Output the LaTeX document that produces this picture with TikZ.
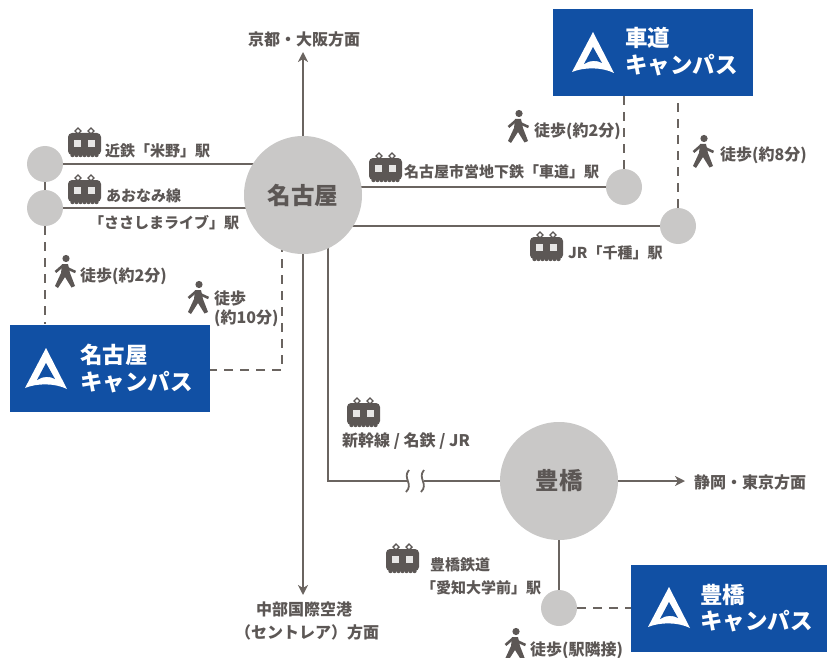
\documentclass[tikz,border=0pt]{standalone}
\usepackage{fontspec}
\setmainfont{Noto Sans CJK JP}
\usetikzlibrary{backgrounds, arrows.meta}
\definecolor{linegray}{HTML}{6A6460}
\definecolor{textgray}{HTML}{5C5755}
\definecolor{circgray}{HTML}{C9C8C7}
\definecolor{campusblue}{HTML}{1150A4}
\tikzset{
	hub/.style={circle, fill=circgray, minimum size=118pt, inner sep=0pt, text=textgray, font=\fontsize{23.5}{23.5}\selectfont\bfseries},
	station/.style={circle, fill=circgray, minimum size=36pt, inner sep=0pt},
	campus/.style={fill=campusblue, minimum width=200pt, minimum height=87pt, inner sep=0pt},
	campustext/.style={text=white, inner sep=0pt, anchor=west, font=\fontsize{22.5}{22.5}\selectfont\bfseries},
	lbl/.style={text=textgray, inner sep=0pt, font=\fontsize{15}{15}\selectfont\bfseries},
	lblwide/.style={lbl, font=\fontsize{16}{16}\selectfont\bfseries},
	rail/.style={draw=linegray, line width=2.8pt},
	walkway/.style={draw=linegray, line width=2.4pt, dash pattern=on 9pt off 7pt},
	pics/trainicon/.style={code={
		\fill[textgray, rounded corners=4pt] (0,5) rectangle (33,27);
		\foreach \wx in {3,7,11,15,19,23,27} \fill[textgray] (\wx+1.5,27) circle (2.2pt);
		\fill[white!85!textgray] (6,12) rectangle (13,19);
		\fill[white!85!textgray] (20,12) rectangle (27,19);
		\foreach \px in {10,23} \draw[textgray, line width=1.4pt] (\px,6) -- (\px-3,3) -- (\px,0) -- (\px+3,3) -- cycle;
	}},
	pics/walkericon/.style={code={
		\fill[textgray] (11,3.5) circle (3.6pt);
		\fill[textgray] (7,9) -- (13,9) -- (15,18) -- (20,31) -- (16.5,32.5) -- (10,22) -- (3,33) -- (0,31) -- (6,18) -- cycle;
		\draw[textgray, line width=2.6pt, line join=round] (0.5,17) -- (8,10.5) -- (14,14) -- (20.5,17);
	}},
	pics/campuslogo/.style={code={
		\fill[white] (21,0) -- (0,40) .. controls (12,35) and (30,35) .. (42,41) -- cycle;
		\fill[campusblue] (21,15) -- (12,32) .. controls (18,28) and (25,28) .. (30,31) -- cycle;
	}}
}
\begin{document}
\begin{tikzpicture}[x=1pt, y=-1pt, >={Stealth[length=10pt, width=10pt, inset=3pt]}]
	\useasboundingbox (0,0) rectangle (827,658);
	% hubs and stations
	\node[hub] (nagoya) at (303,195) {名古屋};
	\node[hub] (toyohashi) at (559,481) {豊橋};
	\node[station] (komeno) at (45,164) {};
	\node[station] (sasashima) at (45,208) {};
	\node[station] (kurumamichi) at (624,187) {};
	\node[station] (chikusa) at (678,226) {};
	\node[station] (daigakumae) at (559,608) {};
	% campus boxes
	\node[campus] (nagoyacampus) at (110,368) {};
	\node[campus] (kurumacampus) at (653,52.5) {};
	\node[campus, minimum width=196pt] (toyocampus) at (729,608) {};
	\pic at (25,348) {campuslogo};
	\pic at (572,32) {campuslogo};
	\pic at (648,587) {campuslogo};
	\node[campustext] (nagoyaname) at (80,355) {名古屋};
	\node[campustext] (nagoyacam) at (80,382) {キャンパス};
	\node[campustext] (kurumaname) at (625,38) {車道};
	\node[campustext] (kurumacam) at (625,65) {キャンパス};
	\node[campustext] (toyoname) at (700,595) {豊橋};
	\node[campustext] (toyocam) at (700,621) {キャンパス};
	% end points
	\coordinate (north) at (303,52);
	\coordinate (south) at (303,595);
	\coordinate (east) at (685,481);
	\coordinate (bendA) at (282,370);
	\coordinate (bendB) at (328,481);
	\coordinate (breakA) at (408,481);
	\coordinate (breakB) at (424,481);
	\begin{scope}[on background layer]
		\draw[rail] (komeno) -- (komeno -| nagoya);
		\draw[rail] (sasashima) -- (sasashima -| nagoya);
		\draw[rail] (kurumamichi) -- (kurumamichi -| nagoya);
		\draw[rail] (chikusa) -- (chikusa -| nagoya);
		\draw[rail] (toyohashi) -- (daigakumae);
		\draw[rail] (toyohashi) -- (breakB);
		\draw[rail] (nagoya.center -| bendB) |- (breakA);
		\draw[walkway] (komeno) -- (sasashima);
		\draw[walkway] (sasashima) -- (sasashima |- nagoyacampus.north);
		\draw[walkway] (kurumamichi) -- (kurumamichi |- kurumacampus.south);
		\draw[walkway] (chikusa) -- (chikusa |- kurumacampus.south);
		\draw[walkway] (daigakumae) -- (daigakumae -| toyocampus.west);
		\draw[walkway] (nagoya.center -| bendA) -- (bendA) -- (bendA -| nagoyacampus.east);
	\end{scope}
	\draw[rail, ->] (nagoya.north) -- (north);
	\draw[rail, ->] (nagoya.south) -- (south);
	\draw[rail, ->] (toyohashi.east) -- (east);
	% line break marks
	\draw[linegray, line width=1.8pt] (409,470) .. controls (402,478) and (414,484) .. (406,492);
	\draw[linegray, line width=1.8pt] (424,470) .. controls (417,478) and (429,484) .. (421,492);
	% trains
	\pic at (68,128) {trainicon};
	\pic at (68,175) {trainicon};
	\pic at (369,153) {trainicon};
	\pic at (530,232) {trainicon};
	\pic at (347,398) {trainicon};
	\pic at (386,544) {trainicon};
	% walkers
	\pic at (55,255) {walkericon};
	\pic at (188,281) {walkericon};
	\pic at (508,110) {walkericon};
	\pic at (693,135) {walkericon};
	\pic at (505,628) {walkericon};
	% labels
	\node[lblwide] (kyoto) at (304,39) {京都・大阪方面};
	\node[lblwide] (centrair) at (304,609) {中部国際空港};
	\node[lblwide] (centrairb) at (307,632) {（セントレア）方面};
	\node[lblwide] (shizuoka) at (750,482) {静岡・東京方面};
	\node[lbl, anchor=west] (kintetsu) at (105,151) {近鉄「米野」駅};
	\node[lbl, anchor=west] (aonami) at (106,196) {あおなみ線};
	\node[lbl] (sasalbl) at (164,223) {「ささしまライブ」駅};
	\node[lblwide, anchor=west] (walka) at (80,276) {徒歩(約2分)};
	\node[lblwide, anchor=west] (walkb) at (214,298) {徒歩};
	\node[lblwide, anchor=west] (walkc) at (214,318) {(約10分)};
	\node[lbl, anchor=west] (subway) at (404,172) {名古屋市営地下鉄「車道」駅};
	\node[lbl, anchor=west] (jr) at (568,253) {JR「千種」駅};
	\node[lblwide, anchor=west] (walkd) at (534,131) {徒歩(約2分)};
	\node[lblwide, anchor=west] (walke) at (720,155) {徒歩(約8分)};
	\node[lblwide, anchor=west] (shinkansen) at (342,441) {新幹線 / 名鉄 / JR};
	\node[lbl, anchor=west] (toyotetsu) at (430,565) {豊橋鉄道};
	\node[lbl, anchor=west] (aichi) at (421,588) {「愛知大学前」駅};
	\node[lblwide, anchor=west] (walkf) at (530,650) {徒歩(駅隣接)};
\end{tikzpicture}
\end{document}
